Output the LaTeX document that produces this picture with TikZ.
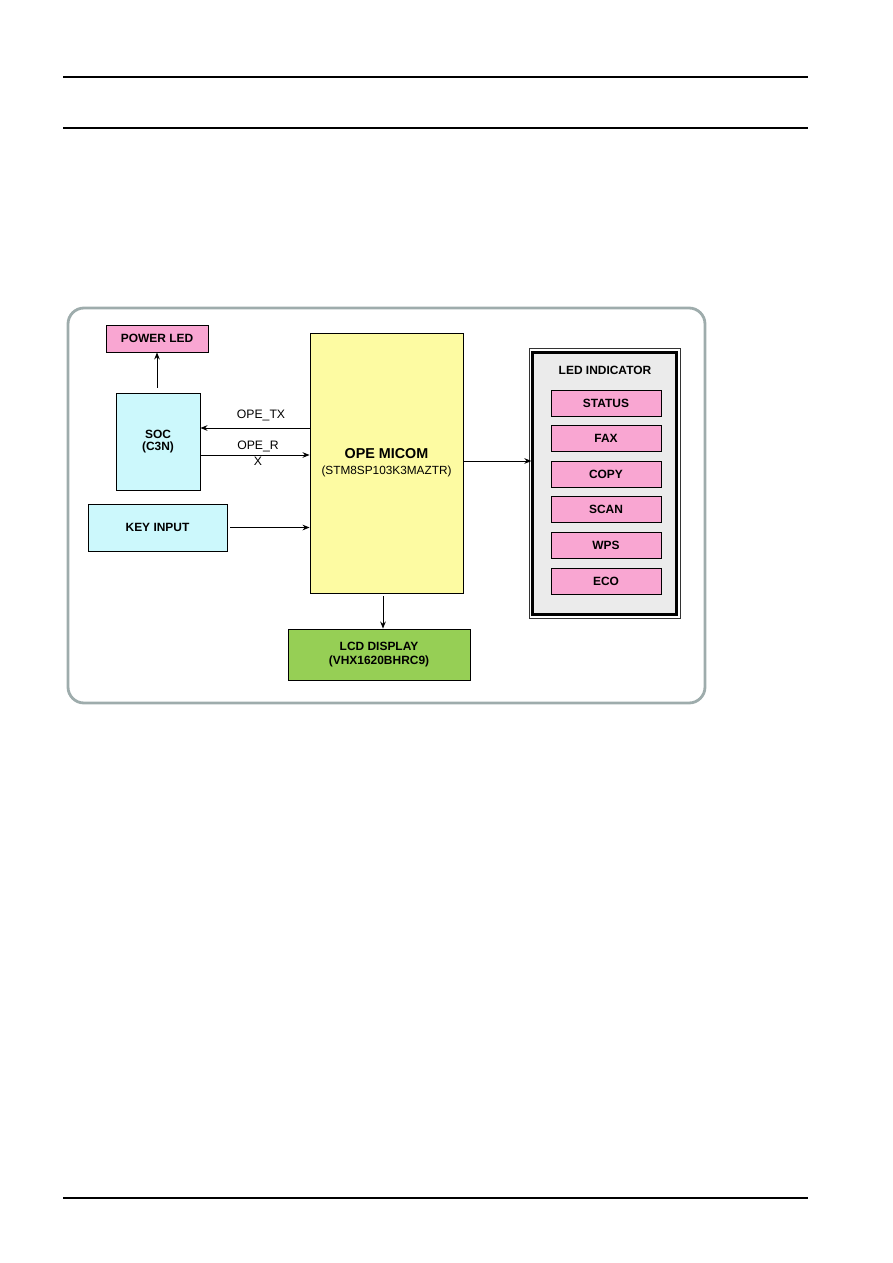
\documentclass[tikz,border=0pt]{standalone}
\usepackage{fontspec}
\setmainfont{Liberation Sans}
\usetikzlibrary{arrows.meta}

\definecolor{pinkbox}{HTML}{F9A6D2}
\definecolor{cyanbox}{HTML}{CCF8FC}
\definecolor{yellowbox}{HTML}{FDFBA2}
\definecolor{greenbox}{HTML}{96CF55}
\definecolor{graybox}{HTML}{EBEBEB}
\definecolor{framegray}{HTML}{9EACAC}

\begin{document}
\begin{tikzpicture}[x=0.025cm,y=-0.025cm,line width=0.7pt,>={Stealth[length=5pt,width=4pt]},
  blk/.style={draw,line width=0.6pt,inner sep=1pt,align=center,
    font=\fontsize{8.5}{9.5}\selectfont\bfseries},
  ledbox/.style={blk,fill=pinkbox,minimum width=2.75cm,minimum height=0.65cm},
  sig/.style={font=\fontsize{8.7}{9}\selectfont}]
\useasboundingbox (0,0) rectangle (893,1263);
% 页眉与页脚横线
\draw[line width=0.8pt] (63,77) -- (808,77);
\draw[line width=0.8pt] (63,128) -- (808,128);
\draw[line width=0.8pt] (63,1198) -- (808,1198);
% 外框
\draw[framegray,line width=2pt,rounded corners=0.4cm] (68,308) rectangle (705,703);
% 方块
\node[blk,fill=pinkbox,minimum width=2.55cm,minimum height=0.675cm] (pled) at (157,338.5) {POWER LED};
\node[blk,fill=cyanbox,minimum width=2.1cm,minimum height=2.425cm,
  font=\fontsize{8.5}{8.8}\selectfont\bfseries] (soc) at (158,441.5) {SOC\\(C3N)};
\node[blk,fill=cyanbox,minimum width=3.475cm,minimum height=1.175cm] (key) at (157.5,527.5) {KEY INPUT};
\node[blk,fill=yellowbox,minimum width=3.825cm,minimum height=6.5cm,font=\fontsize{8.4}{11.3}\selectfont]
  (micom) at (386.5,463) {{\fontsize{10.2}{11.3}\selectfont\bfseries OPE MICOM}\\(STM8SP103K3MAZTR)};
\node[blk,fill=greenbox,minimum width=4.55cm,minimum height=1.275cm] (lcd) at (379,654.5) {LCD DISPLAY\\(VHX1620BHRC9)};
% LED 指示灯
\node[draw,fill=graybox,line width=1.6pt,minimum width=3.6cm,minimum height=6.55cm] (led) at (604.5,483.5) {};
\draw[line width=0.5pt,black!80] ([shift={(-2.5,-2.5)}]led.north west) rectangle ([shift={(2.5,2.5)}]led.south east);
\node[font=\fontsize{8.5}{9}\selectfont\bfseries] (ledtitle) at (605,370) {LED INDICATOR};
\foreach \lbl [count=\i] in {STATUS,FAX,COPY,SCAN,WPS,ECO}
  \node[ledbox] (led\i) at (606,{403+35.6*(\i-1)}) {\lbl};
% 连线
\draw[->,shorten <=0.125cm] (soc.north -| pled.south) -- (pled.south);
\draw[->] (micom.west |- 0,428) -- (soc.east |- 0,428);
\draw[->] (soc.east |- 0,455) -- (micom.west |- 0,455);
\draw[->,shorten <=0.075cm] (key.east) -- (micom.west |- key.east);
\draw[->] (micom.east |- 0,461) -- (led.west |- 0,461);
\draw[->,shorten <=0.075cm] (micom.south -| 383,0) -- (lcd.north -| 383,0);
% 信号名
\node[sig] (tx) at (261,415) {OPE\_TX};
\node[sig] (rx) at (258,446) {OPE\_R};
\node[sig] (rxx) at (258,461) {X};
\end{tikzpicture}
\end{document}
